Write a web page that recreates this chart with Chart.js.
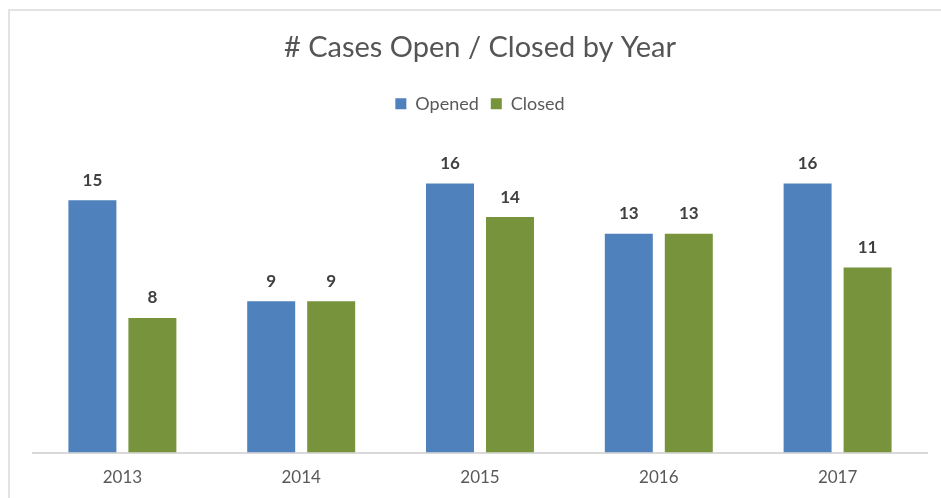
<!DOCTYPE html>
<html>
<head>
<meta charset="utf-8">
<script src="https://cdn.jsdelivr.net/npm/chart.js@4"></script>
<style>
  html, body { margin: 0; padding: 0; background: #fff; }
  #wrap { position: relative; width: 941px; height: 498px; overflow: hidden; }
  #frame {
    position: absolute; left: 8px; top: 9px; width: 1000px; height: 600px;
    border: 2px solid #e3e3e3; box-sizing: border-box;
  }
  canvas { position: absolute; left: 0; top: 0; }
</style>
</head>
<body>
<div id="wrap">
  <div id="frame"></div>
  <canvas id="chart" width="941" height="498"></canvas>
</div>
<script>
// data
const years = ["2013", "2014", "2015", "2016", "2017"];
const opened = [15, 9, 16, 13, 16];
const closed = [8, 9, 14, 13, 11];
const yMax = 19.6;

const blue = "#4f81bd";
const green = "#77933c";

// draws the value above every bar
const valueLabels = {
    id: "valueLabels",
    afterDatasetsDraw(chart) {
        const ctx = chart.ctx;
        ctx.save();
        ctx.font = "bold 17px Lato";
        ctx.fillStyle = "#404040";
        ctx.textAlign = "center";
        ctx.textBaseline = "middle";
        chart.data.datasets.forEach((ds, i) => {
            chart.getDatasetMeta(i).data.forEach((bar, j) => {
                ctx.fillText(ds.data[j], bar.x, bar.y - 20);
            });
        });
        ctx.restore();
    }
};

new Chart(document.getElementById("chart"), {
    type: "bar",
    data: {
        labels: years,
        datasets: [
            { label: "Opened", data: opened, backgroundColor: blue },
            { label: "Closed", data: closed, backgroundColor: green }
        ]
    },
    options: {
        responsive: false,
        animation: false,
        categoryPercentage: 0.671,
        barPercentage: 0.8,
        layout: { padding: { left: 33, right: 14, top: 30, bottom: 3 } },
        plugins: {
            title: {
                display: true,
                text: "# Cases Open / Closed by Year",
                color: "#555555",
                font: { family: "Lato", size: 29, weight: "normal" },
                padding: { top: 0, bottom: 18 }
            },
            legend: {
                labels: {
                    boxWidth: 11,
                    boxHeight: 11,
                    color: "#595959",
                    font: { family: "Lato", size: 18 },
                    padding: 12
                }
            },
            tooltip: { enabled: false }
        },
        scales: {
            x: {
                grid: { display: false },
                border: { color: "#d9d9d9", width: 2 },
                ticks: { color: "#595959", font: { family: "Lato", size: 17 }, padding: 7 }
            },
            y: {
                display: false,
                min: 0,
                max: yMax
            }
        }
    },
    plugins: [valueLabels]
});
</script>
</body>
</html>
